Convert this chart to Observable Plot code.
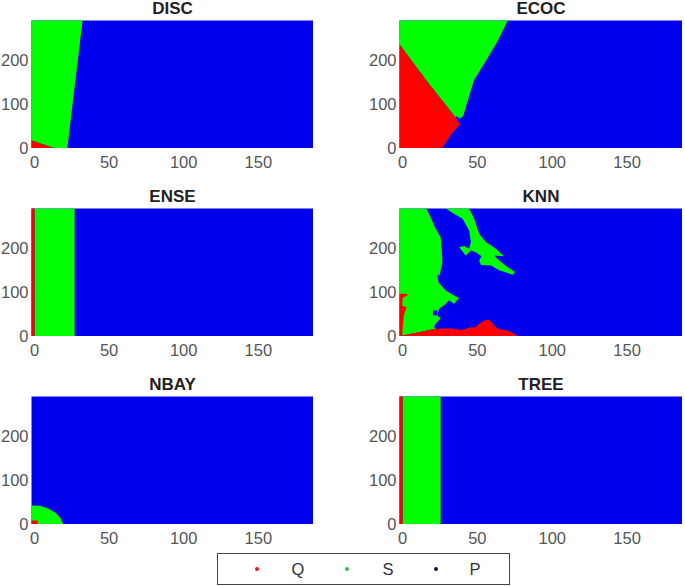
<!DOCTYPE html>
<html><head><meta charset="utf-8">
<script src="https://cdn.jsdelivr.net/npm/d3@7"></script>
<script src="https://cdn.jsdelivr.net/npm/@observablehq/plot@0.6"></script>
<style>
html,body{margin:0;padding:0;background:#fff}
#page{position:relative;width:685px;height:586px;overflow:hidden;font-family:"Liberation Sans",Arial,sans-serif}
#page>div{position:absolute}
#legend{box-sizing:border-box;left:217px;top:553px;width:293px;height:32px;border:1.5px solid #444;background:#fff}
#legend span{position:absolute;top:50%;transform:translate(-50%,-50%);color:#333;font-size:16.5px}
#legend i{position:absolute;top:50%;width:4px;height:4px;border-radius:50%;transform:translate(-50%,-50%)}
</style></head><body><div id="page"></div>
<script>
const classes = ["Q","S","P"];
const classColors = ["#ff0000","#00ff00","#0000ee"];
const legendDots = ["#f01020","#30c050","#101040"];
const xTicks = [0,50,100,150];
const yTicks = [0,100,200];
const xDomain = [-2,187];
const yDomain = [0,290];

const discS = [[-2,290],[32.2,290],[22,0],[14,0],[-2,18]];
const discQ = [[-2,18],[14,0],[-2,0]];

const ecocS = [[-2,290],[70.3,290],[63.5,243],[55.7,198],[47.9,156],[44.5,119],[40.5,73],[38.3,68],[36,73],[35.6,69.5],[17.7,146],[-2,235.6]];
const ecocQ = [[-2,235.6],[17.7,146],[35.6,69.5],[38.3,54],[33.3,35.5],[26.2,0],[-2,0]];

const enseS = [[0,290],[26.9,290],[26.9,0],[0,0]];
const enseQ = [[-2,290],[0,290],[0,0],[-2,0]];

const knnS1 = [[-2,290],[15.9,290],[18.8,270],[22.2,244],[25.5,225],[26.2,199],[26.7,168],[24.8,140],[23.3,138],[24,123],[28.9,104],[34.4,93],[37.8,87],[34.4,74],[31.1,82],[27.7,70],[24.4,63],[23.3,47.6],[25.5,41.5],[22.2,29],[21,22.7],[22.2,17.4],[11,9.7],[-0.2,2.3],[-2,0]];
const knnS2 = [[28.9,290],[44.5,290],[47.9,267],[51.2,233],[55.7,214],[62.4,199],[67.6,182],[61.3,183.5],[64.6,172],[70.3,157],[75.2,146],[73.6,140],[64.6,150],[59.1,161],[52.4,162],[51.2,172],[52.8,182],[49,191],[45.7,195],[42.3,183.5],[37.8,202],[41.2,205],[44.5,199],[45.7,214],[44.5,240],[40.1,267],[34.4,278]];
const knnP = [[20.3,59],[23.3,59],[23.3,48],[20.3,48]];
const knnQ1 = [[-2,97],[3.2,97],[3.2,93],[0.2,88],[-0.2,70],[2.7,66],[0.9,48],[0.2,25],[-0.2,2.3],[-2,0]];
const knnQ2 = [[-2,0],[-0.2,2.3],[11,9.7],[22.2,17.4],[32.2,18.8],[39,15],[45.7,21],[49,21],[51.2,29],[54.6,36],[57.9,38.5],[60.2,29],[63.6,17.4],[70.3,13.6],[78,0]];

const nbayS = [[-2,43],[4,42.3],[9.6,35.5],[14.1,26.4],[17.5,15],[19.3,0],[-2,0]];
const nbayQ = [[-2,9],[2.25,9],[2.25,0],[-2,0]];

const treeS = [[0,290],[25.5,290],[25.5,0],[0,0]];
const treeQ = [[-2,290],[0,290],[0,0],[-2,0]];

const background = [[-2,290],[187,290],[187,0],[-2,0]];

const panels = [
  {title:"DISC",col:0,row:0,shapes:[[discS,1],[discQ,0]]},
  {title:"ECOC",col:1,row:0,shapes:[[ecocS,1],[ecocQ,0]]},
  {title:"ENSE",col:0,row:1,shapes:[[enseS,1],[enseQ,0]]},
  {title:"KNN",col:1,row:1,shapes:[[knnS1,1],[knnS2,1],[knnP,2],[knnQ1,0],[knnQ2,0]]},
  {title:"NBAY",col:0,row:2,shapes:[[nbayS,1],[nbayQ,0]]},
  {title:"TREE",col:1,row:2,shapes:[[treeS,1],[treeQ,0]]}
];

const page = document.getElementById("page");
for (const p of panels) {
  const poly = (pts,c) => Plot.line(pts,{x:d=>d[0],y:d=>d[1],fill:classColors[c],stroke:"none",curve:"linear-closed",clip:true});
  const chart = Plot.plot({
    width: p.col ? 340 : 316,
    height: 178,
    marginLeft: p.col ? 54 : 31,
    marginRight: 3,
    marginTop: 20,
    marginBottom: 30,
    style:{background:"transparent",fontFamily:"'Liberation Sans',Arial,sans-serif",overflow:"visible"},
    x:{domain:xDomain,axis:null},
    y:{domain:yDomain,axis:null},
    marks:[
      poly(background,2),
      ...p.shapes.map(([pts,c])=>poly(pts,c)),
      Plot.axisX({ticks:xTicks,tickSize:0,tickPadding:8,fontSize:16.5,color:"#555",label:null,anchor:"bottom"}),
      Plot.axisY({ticks:yTicks,tickSize:0,tickPadding:3,fontSize:16.5,color:"#555",label:null,anchor:"left"}),
      Plot.text([p.title],{frameAnchor:"top",lineAnchor:"middle",dy:-12,fontSize:17,fontWeight:"bold",fill:"#222"})
    ]
  });
  const d = document.createElement("div");
  d.style.left = (p.col ? 345 : 0)+"px";
  d.style.top = (p.row*188)+"px";
  d.appendChild(chart);
  page.appendChild(d);
}

const legend = document.createElement("div");
legend.id = "legend";
const dotX = [39,129,218];
const labelX = [80,170,257];
classes.forEach((c,i)=>{
  const dot = document.createElement("i");
  dot.style.left = dotX[i]+"px"; dot.style.background = legendDots[i];
  legend.appendChild(dot);
  const s = document.createElement("span");
  s.style.left = labelX[i]+"px"; s.textContent = c;
  legend.appendChild(s);
});
page.appendChild(legend);
</script></body></html>
